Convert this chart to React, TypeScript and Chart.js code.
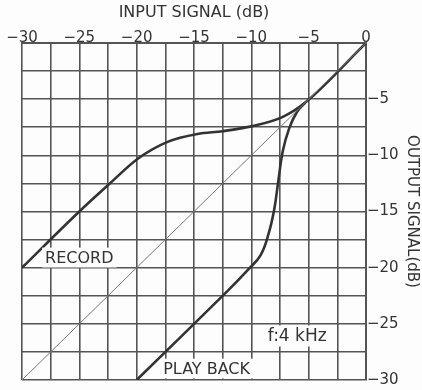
import React, { useEffect, useRef } from "react";
import { Chart, registerables } from "chart.js";

Chart.register(...registerables);

// Input signal (dB) / output signal (dB)
const diagonalX = [-30, 0];
const diagonalY = [-30, 0];

const recordX = [-30, -25, -22.6, -19.9, -17.3, -14.7, -12.5, -9.9, -7.3, -5.3, 0];
const recordY = [-20, -15, -12.75, -10.3, -8.8, -8.1, -7.85, -7.4, -6.6, -5.3, 0];

const playbackX = [-20, -12, -10.3, -9.2, -8.5, -8.0, -7.65, -7.25, -6.7, -6.0, -5.3];
const playbackY = [-30, -22, -20.2, -18.9, -17.0, -14.8, -12.3, -9.6, -7.6, -6.1, -5.3];

const xTickValues = [-30, -25, -20, -15, -10, -5, 0];
const yTickValues = [-5, -10, -15, -20, -25, -30];

const noteTexts = ["RECORD", "PLAY BACK", "f:4 kHz"];
const noteX = [-25, -13.9, -6.0];
const noteY = [-19.1, -28.98, -26.08];

const fmt = (v: number) => (v < 0 ? "\u2212" + Math.abs(v) : String(v));
const toPts = (xs: number[], ys: number[]) => xs.map((x, i) => ({ x, y: ys[i] }));

const FONT = "'DejaVu Sans', sans-serif";
const INK = "#333";
const GRID = "#555";

const bgPlugin = {
  id: "bg",
  beforeDraw(chart: any) {
    const { ctx, width, height } = chart;
    ctx.save();
    ctx.fillStyle = "#fdfdfd";
    ctx.fillRect(0, 0, width, height);
    ctx.restore();
  },
};

const notesPlugin = {
  id: "notes",
  afterDatasetsDraw(chart: any) {
    const { ctx, scales } = chart;
    ctx.save();
    noteTexts.forEach((t, i) => {
      const px = scales.x.getPixelForValue(noteX[i]);
      const py = scales.y.getPixelForValue(noteY[i]);
      const size = i === 2 ? 17 : 16;
      ctx.font = `${size}px ${FONT}`;
      const w = ctx.measureText(t).width;
      ctx.fillStyle = "#fdfdfd";
      ctx.fillRect(px - w / 2 - 3, py - size * 0.62, w + 6, size * 1.24);
      ctx.fillStyle = INK;
      ctx.textAlign = "center";
      ctx.textBaseline = "middle";
      ctx.fillText(t, px, py + 1);
    });
    ctx.restore();
  },
};

export default function App() {
  const ref = useRef<HTMLCanvasElement | null>(null);

  useEffect(() => {
    document.body.style.margin = "0";
    if (!ref.current) return;
    const chart = new Chart(ref.current, {
      type: "scatter",
      data: {
        datasets: [
          {
            data: toPts(diagonalX, diagonalY),
            showLine: true,
            borderColor: "#777",
            borderWidth: 1,
            pointRadius: 0,
          },
          {
            data: toPts(recordX, recordY),
            showLine: true,
            borderColor: INK,
            borderWidth: 2.6,
            pointRadius: 0,
            cubicInterpolationMode: "monotone",
          },
          {
            data: toPts(playbackX, playbackY),
            showLine: true,
            borderColor: INK,
            borderWidth: 2.6,
            pointRadius: 0,
            tension: 0.4,
          },
        ],
      },
      options: {
        animation: false,
        responsive: false,
        layout: { padding: { left: 22, bottom: 6, top: 0, right: 0 } },
        plugins: { legend: { display: false }, tooltip: { enabled: false } },
        scales: {
          x: {
            type: "linear",
            position: "top",
            min: -30,
            max: 0,
            afterFit(scale: any) {
              scale.height = 43;
            },
            ticks: {
              stepSize: 2.5,
              autoSkip: false,
              maxRotation: 0,
              padding: 0,
              color: INK,
              font: { family: FONT, size: 15, lineHeight: 0.7 },
              callback: (v: any) => (xTickValues.includes(Number(v)) ? fmt(Number(v)) : ""),
            },
            grid: { color: GRID, lineWidth: 1.6, drawTicks: false },
            border: { display: true, color: GRID, width: 2 },
            title: {
              display: true,
              text: "INPUT SIGNAL (dB)",
              color: INK,
              font: { family: FONT, size: 16 },
              padding: { top: 3, bottom: 0 },
            },
          },
          y: {
            type: "linear",
            position: "right",
            min: -30,
            max: 0,
            afterFit(scale: any) {
              scale.width = 56;
            },
            ticks: {
              stepSize: 2.5,
              autoSkip: false,
              padding: 1,
              color: INK,
              font: { family: FONT, size: 15 },
              callback: (v: any) => (yTickValues.includes(Number(v)) ? fmt(Number(v)) : ""),
            },
            grid: { color: GRID, lineWidth: 1.6, drawTicks: false },
            border: { display: true, color: GRID, width: 2 },
            title: {
              display: true,
              text: "OUTPUT SIGNAL(dB)",
              color: INK,
              font: { family: FONT, size: 15 },
              padding: { top: 1, bottom: 0 },
            },
          },
        },
      },
      plugins: [bgPlugin, notesPlugin],
    } as any);
    return () => chart.destroy();
  }, []);

  return (
    <div style={{ width: 422, height: 390 }}>
      <canvas ref={ref} width={422} height={390} style={{ display: "block" }} />
    </div>
  );
}
